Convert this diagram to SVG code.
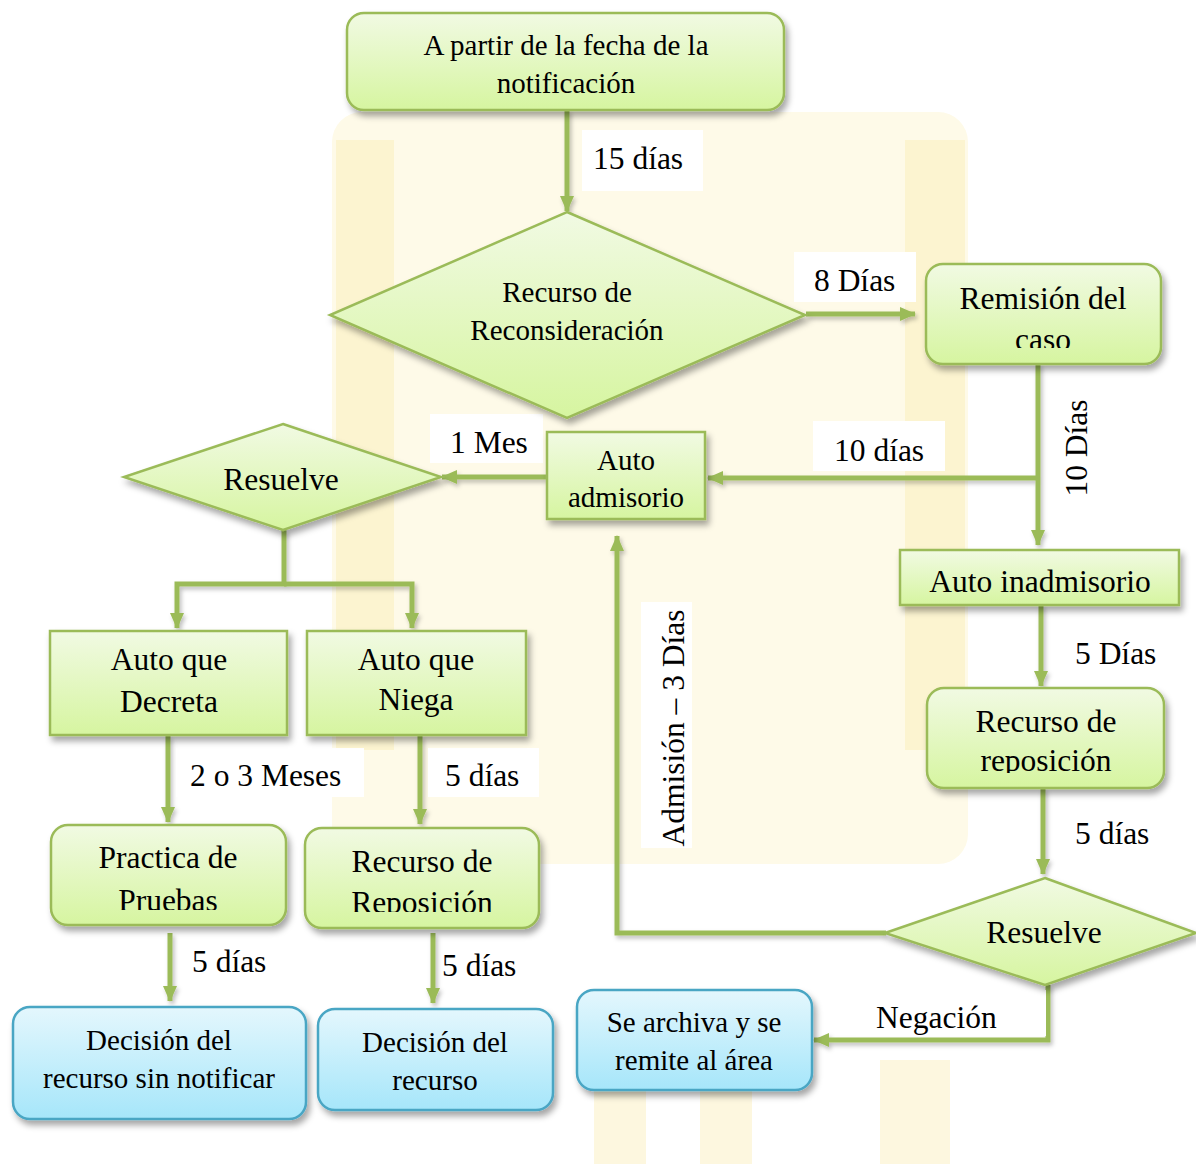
<svg xmlns="http://www.w3.org/2000/svg" width="1196" height="1164" viewBox="0 0 1196 1164">
<defs>
<linearGradient id="gg" x1="0" y1="0" x2="0" y2="1">
<stop offset="0" stop-color="#f1fae3"/><stop offset="1" stop-color="#d6f5a0"/>
</linearGradient>
<linearGradient id="bg" x1="0" y1="0" x2="0" y2="1">
<stop offset="0" stop-color="#e4f7fd"/><stop offset="1" stop-color="#a6e6fa"/>
</linearGradient>
<filter id="sh" x="-10%" y="-10%" width="125%" height="140%">
<feDropShadow dx="3" dy="5" stdDeviation="3" flood-color="#000" flood-opacity="0.35"/>
</filter>
<filter id="lsh" filterUnits="userSpaceOnUse" x="0" y="0" width="1196" height="1164">
<feDropShadow dx="2" dy="3" stdDeviation="2" flood-color="#000" flood-opacity="0.25"/>
</filter>
<marker id="ah" markerUnits="userSpaceOnUse" markerWidth="16" markerHeight="16" viewBox="0 0 16 16" refX="15" refY="8" orient="auto">
<path d="M0,1 L16,8 L0,15 z" fill="#9bbb59"/>
</marker>
<clipPath id="cRem"><rect x="920" y="260" width="250" height="88"/></clipPath>
<clipPath id="cPra"><rect x="45" y="820" width="250" height="90"/></clipPath>
<clipPath id="cRep"><rect x="300" y="822" width="250" height="90"/></clipPath>
<clipPath id="cRep2"><rect x="920" y="682" width="250" height="91"/></clipPath>
</defs>
<style>
.g{fill:url(#gg);stroke:#9bbb59;stroke-width:2.5;filter:url(#sh)}
.b{fill:url(#bg);stroke:#4aa6c4;stroke-width:2.5;filter:url(#sh)}
.t{font-family:"Liberation Serif","Times New Roman",serif;fill:#000;text-anchor:middle}
.l{font-family:"Liberation Serif","Times New Roman",serif;fill:#000}
.s29{font-size:29px}
.s31{font-size:31.5px}
.c{fill:none;stroke:#9bbb59;stroke-width:5}
.a{marker-end:url(#ah)}
.w{fill:#ffffff}
</style>
<rect width="1196" height="1164" fill="#ffffff"/>
<g id="watermark">
<rect x="332" y="112" width="636" height="752" rx="30" fill="#fefae8"/>
<rect x="336" y="140" width="58" height="610" fill="#fcf4d0"/>
<rect x="905" y="140" width="60" height="610" fill="#fcf4d0"/>
<rect x="594" y="1000" width="52" height="164" fill="#fdf7df"/>
<rect x="700" y="1000" width="52" height="164" fill="#fdf7df"/>
<rect x="880" y="1060" width="70" height="104" fill="#fdf7df"/>
</g>
<g id="connectors" filter="url(#lsh)">
<path class="c a" d="M567,110 V211"/>
<path class="c a" d="M806,314 H915"/>
<path class="c a" d="M1038,364 V545"/>
<path class="c a" d="M1038,478 H708"/>
<path class="c a" d="M546,477 H442"/>
<path class="c a" d="M284,530 V584 H177 V628"/>
<path class="c a" d="M284,584 H412 V628"/>
<path class="c a" d="M168,736 V822"/>
<path class="c a" d="M420,736 V824"/>
<path class="c a" d="M170,933 V1001"/>
<path class="c a" d="M433,933 V1003"/>
<path class="c a" d="M1041,605 V686"/>
<path class="c a" d="M1043,788 V874"/>
<path class="c a" d="M886,933 H617 V536"/>
<path class="c a" d="M1048,985 V1040 H814"/>
</g>
<g id="labels">
<rect class="w" x="582" y="130" width="121" height="61"/>
<text class="l s31" x="593" y="169">15 días</text>
<rect class="w" x="794" y="252" width="122" height="50"/>
<text class="l s31" x="814" y="291">8 Días</text>
<rect class="w" x="813" y="421" width="132" height="50"/>
<text class="l s31" x="834" y="461">10 días</text>
<rect class="w" x="430" y="414" width="113" height="49"/>
<text class="l s31" x="450" y="453">1 Mes</text>
<text class="t s31" transform="translate(1087,448) rotate(-90)">10 Días</text>
<rect class="w" x="176" y="748" width="188" height="49"/>
<text class="l s31" x="190" y="786">2 o 3 Meses</text>
<rect class="w" x="428" y="748" width="111" height="49"/>
<text class="l s31" x="445" y="786">5 días</text>
<text class="l s31" x="1075" y="664">5 Días</text>
<text class="l s31" x="1075" y="844">5 días</text>
<rect class="w" x="641" y="602" width="51" height="246"/>
<text class="t s31" transform="translate(684,728) rotate(-90)">Admisión – 3 Días</text>
<text class="l s31" x="192" y="972">5 días</text>
<text class="l s31" x="442" y="976">5 días</text>
<rect class="w" x="856" y="990" width="190" height="46"/>
<text class="l s31" x="876" y="1028">Negación</text>
</g>
<g id="n-inicio">
<rect class="g" x="347" y="13" width="437" height="97" rx="17"/>
<text class="t s29" x="566" y="55">A partir de la fecha de la</text>
<text class="t s29" x="566" y="93">notificación</text>
</g>
<g id="n-reconsideracion">
<polygon class="g" points="567,212 805,315 567,418 330,315"/>
<text class="t s29" x="567" y="302">Recurso de</text>
<text class="t s29" x="567" y="340">Reconsideración</text>
</g>
<g id="n-remision">
<rect class="g" x="926" y="264" width="235" height="100" rx="17"/>
<g clip-path="url(#cRem)">
<text class="t s31" x="1043" y="309">Remisión del</text>
<text class="t s31" x="1043" y="350">caso</text>
</g>
</g>
<g id="n-auto-admisorio">
<rect class="g" x="547" y="432" width="158" height="87"/>
<text class="t s29" x="626" y="470">Auto</text>
<text class="t s29" x="626" y="507">admisorio</text>
</g>
<g id="n-resuelve1">
<polygon class="g" points="283,424 441,477 283,530 124,477"/>
<text class="t s31" x="281" y="490">Resuelve</text>
</g>
<g id="n-decreta">
<rect class="g" x="50" y="631" width="237" height="104"/>
<text class="t s31" x="169" y="670">Auto que</text>
<text class="t s31" x="169" y="712">Decreta</text>
</g>
<g id="n-niega">
<rect class="g" x="307" y="631" width="219" height="104"/>
<text class="t s31" x="416" y="670">Auto que</text>
<text class="t s31" x="416" y="710">Niega</text>
</g>
<g id="n-pruebas">
<rect class="g" x="51" y="825" width="235" height="100" rx="17"/>
<g clip-path="url(#cPra)">
<text class="t s31" x="168" y="868">Practica de</text>
<text class="t s31" x="168" y="911">Pruebas</text>
</g>
</g>
<g id="n-reposicion1">
<rect class="g" x="305" y="828" width="234" height="100" rx="17"/>
<g clip-path="url(#cRep)">
<text class="t s31" x="422" y="872">Recurso de</text>
<text class="t s31" x="422" y="913">Reposición</text>
</g>
</g>
<g id="n-decision1">
<rect class="b" x="13" y="1007" width="293" height="112" rx="17"/>
<text class="t s29" x="159" y="1050">Decisión del</text>
<text class="t s29" x="159" y="1088">recurso sin notificar</text>
</g>
<g id="n-decision2">
<rect class="b" x="318" y="1009" width="235" height="101" rx="17"/>
<text class="t s29" x="435" y="1052">Decisión del</text>
<text class="t s29" x="435" y="1090">recurso</text>
</g>
<g id="n-archiva">
<rect class="b" x="577" y="990" width="235" height="100" rx="17"/>
<text class="t s29" x="694" y="1032">Se archiva y se</text>
<text class="t s29" x="694" y="1070">remite al área</text>
</g>
<g id="n-inadmisorio">
<rect class="g" x="900" y="550" width="279" height="55"/>
<text class="t s31" x="1040" y="592">Auto inadmisorio</text>
</g>
<g id="n-reposicion2">
<rect class="g" x="927" y="688" width="237" height="100" rx="17"/>
<g clip-path="url(#cRep2)">
<text class="t s31" x="1046" y="732">Recurso de</text>
<text class="t s31" x="1046" y="771">reposición</text>
</g>
</g>
<g id="n-resuelve2">
<polygon class="g" points="1045,878 1196,933 1045,985 885,933"/>
<text class="t s31" x="1044" y="943">Resuelve</text>
</g>
</svg>
